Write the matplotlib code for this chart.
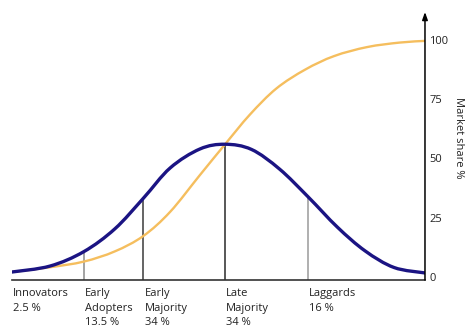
import matplotlib.pyplot as plt
from matplotlib.patches import PathPatch
from matplotlib.path import Path

# Adoption curve (bell) sampled along the timeline, 0..100
adopt_x = [0, 9.2, 17.4, 24.9, 31.8, 38.3, 45.5, 51.6, 58.0, 64.8, 71.7,
           78.8, 85.5, 92.5, 100]
adopt_y = [2.1, 4.6, 10.7, 20.3, 33.2, 46.0, 54.0, 56.0, 53.8, 45.5, 33.8,
           21.0, 11.0, 4.0, 1.7]

# Cumulative market share
share_x = [0, 9.2, 17.4, 24.9, 31.8, 38.3, 45.5, 51.6, 57.6, 64.0, 71.0,
           78.0, 86.0, 93.9, 100]
share_y = [2.1, 4.1, 6.5, 10.8, 17.3, 27.5, 43.0, 56.0, 68.5, 79.5, 87.5,
           93.2, 97.0, 98.9, 99.6]

# Segment boundaries and the height of the bell at each one
bound_x = [17.4, 31.8, 51.6, 71.7]
bound_top = [10.7, 33.2, 56.0, 33.8]
bound_colors = ["#8a8a8a", "#3a3a3a", "#2a2a2a", "#9a9a9a"]

groups = ["Innovators\n2.5 %", "Early\nAdopters\n13.5 %", "Early\nMajority\n34 %",
          "Late\nMajority\n34 %", "Laggards\n16 %"]
group_x = [0, 17.4, 31.8, 51.6, 71.7]

y_ticks = [0, 25, 50, 75, 100]


def smooth_path(xs, ys):
    # Catmull-Rom through the points, emitted as cubic Bezier segments
    pts = list(zip(xs, ys))
    verts = [pts[0]]
    codes = [Path.MOVETO]
    n = len(pts)
    for i in range(n - 1):
        p0 = pts[i - 1] if i > 0 else pts[i]
        p1 = pts[i]
        p2 = pts[i + 1]
        p3 = pts[i + 2] if i + 2 < n else pts[i + 1]
        c1 = (p1[0] + (p2[0] - p0[0]) / 6, p1[1] + (p2[1] - p0[1]) / 6)
        c2 = (p2[0] - (p3[0] - p1[0]) / 6, p2[1] - (p3[1] - p1[1]) / 6)
        verts += [c1, c2, p2]
        codes += [Path.CURVE4] * 3
    return Path(verts, codes)


plt.rcParams["font.family"] = ["Open Sans", "DejaVu Sans"]

fig = plt.figure(figsize=(4.71, 3.33), dpi=100)
ax = fig.add_axes([0.0255, 0.159, 0.8768, 0.805])

ymin, ymax = -1.3, 111.8
for bx, top, col in zip(bound_x, bound_top, bound_colors):
    ax.plot([bx, bx], [ymin, top], color=col, lw=1.1, zorder=1)

ax.add_patch(PathPatch(smooth_path(share_x, share_y), facecolor="none",
                       edgecolor="#f5be5e", lw=1.7, zorder=2))
ax.add_patch(PathPatch(smooth_path(adopt_x, adopt_y), facecolor="none",
                       edgecolor="#1b1483", lw=2.4, zorder=3,
                       capstyle="round"))

ax.set_xlim(0, 100)
ax.set_ylim(ymin, ymax)

for s in ["top", "left", "right"]:
    ax.spines[s].set_visible(False)
ax.spines["bottom"].set_color("#333333")
ax.spines["bottom"].set_linewidth(1.2)
ax.set_xticks([])

ax.yaxis.tick_right()
ax.set_yticks(y_ticks)
ax.tick_params(axis="y", length=0, pad=3, labelsize=8, labelcolor="#222222")
ax.set_ylabel("Market share %", rotation=-90, fontsize=8, color="#222222")
ax.yaxis.set_label_position("right")
ax.yaxis.set_label_coords(1.095, 0.53)

# y axis with an arrow head on top
ax.annotate("", xy=(1, 1.0), xytext=(1, 0), xycoords="axes fraction",
            arrowprops=dict(arrowstyle="-|>,head_length=0.45,head_width=0.16",
                            color="black", lw=1.1, shrinkA=0, shrinkB=0))

for gx, lab in zip(group_x, groups):
    ax.text(gx + 0.3, -0.03, lab, transform=ax.get_xaxis_transform(),
            ha="left", va="top", fontsize=8, color="#222222",
            linespacing=1.45)

fig.savefig("out.png", dpi=100)
